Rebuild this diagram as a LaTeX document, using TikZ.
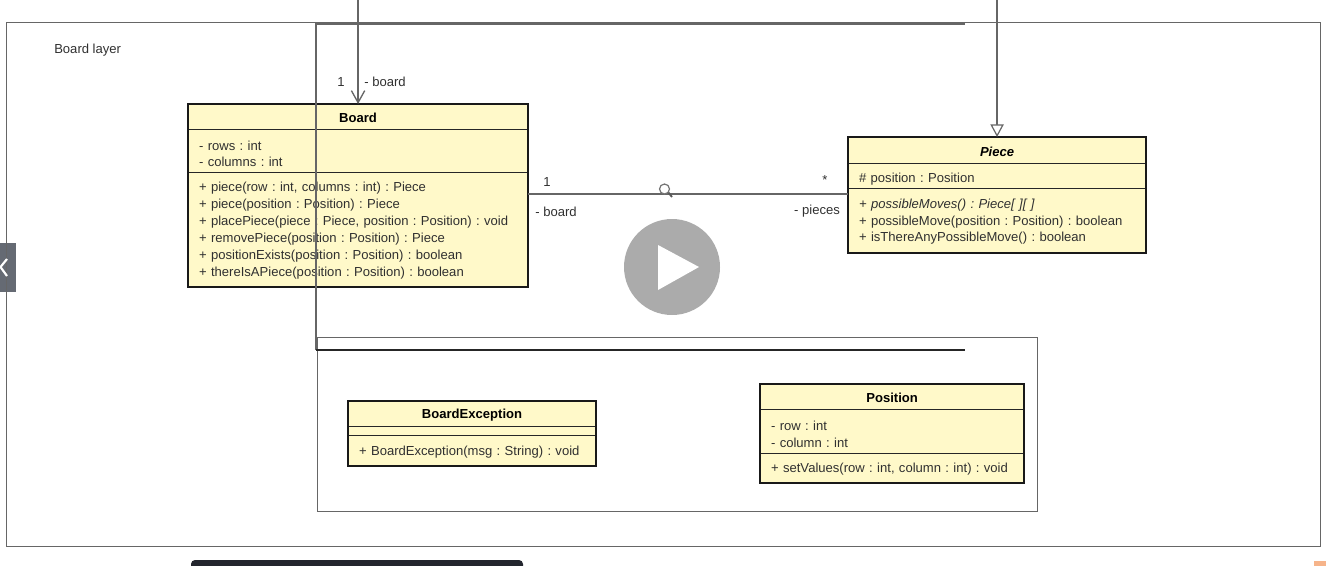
\documentclass[tikz,border=0pt]{standalone}
\usepackage{fontspec}
\setmainfont{Liberation Sans}
\usetikzlibrary{arrows.meta}
\frenchspacing
\definecolor{noteyellow}{HTML}{FFF9C9}
\definecolor{textgray}{HTML}{303030}
\definecolor{framegray}{HTML}{666666}
\definecolor{playgray}{HTML}{ABABAB}
\definecolor{tabgray}{HTML}{656A73}
\definecolor{bardark}{HTML}{23262E}
\definecolor{logoorange}{HTML}{F6B48A}
\tikzset{
  classfont/.style={font=\fontsize{9.8}{12.7}\selectfont,text=textgray},
  classpart/.style={draw=black!85,line width=0.6pt,fill=noteyellow,anchor=north west,
    inner xsep=8pt,inner ysep=0pt,align=left,classfont,
    execute at begin node={\rule{0pt}{9pt}}},
  classattrs/.style={classpart,execute at begin node={\rule{0pt}{11.5pt}}},
  classname/.style={classpart,align=center,text=black},
  classborder/.style={draw=black!90,line width=1.7pt},
  framebox/.style={draw=framegray,line width=0.75pt},
  label/.style={classfont,inner sep=0pt},
}
\begin{document}
\begin{tikzpicture}[x=0.75pt,y=-0.75pt]
  \useasboundingbox (0,0) rectangle (1326,565);
  % outer layer
  \node[framebox,anchor=north west,minimum width=985.5pt,minimum height=393pt,inner sep=0pt] (layer) at (6,22) {};
  \node[label,anchor=west] (layername) at (54,50) {Board layer};
  % Board
  \node[classname,minimum width=254.5pt,minimum height=18.75pt,text width=238.5pt] (BoardName) at (188,104) {\textbf{Board}};
  \node[classattrs,minimum width=254.5pt,minimum height=32.25pt,text width=238.5pt] (BoardAttrs) at (188,129)
    {- rows : int\\- columns : int};
  \node[classpart,minimum width=254.5pt,minimum height=85.5pt,text width=238.5pt] (BoardOps) at (188,172)
    {+ piece(row : int, columns : int) : Piece\\
     + piece(position : Position) : Piece\\
     + placePiece(piece : Piece, position : Position) : void\\
     + removePiece(position : Position) : Piece\\
     + positionExists(position : Position) : boolean\\
     + thereIsAPiece(position : Position) : boolean};
  \draw[classborder] (BoardName.north west) rectangle (BoardOps.south east);
  % Piece
  \node[classname,minimum width=223pt,minimum height=19.5pt,text width=207pt] (PieceName) at (848,137) {\textbf{\textit{Piece}}};
  \node[classattrs,minimum width=223pt,minimum height=18.75pt,text width=207pt] (PieceAttrs) at (848,163)
    {\# position : Position};
  \node[classpart,minimum width=223pt,minimum height=48pt,text width=207pt] (PieceOps) at (848,188)
    {\textit{+ possibleMoves() : Piece[ ][ ]}\\
     + possibleMove(position : Position) : boolean\\
     + isThereAnyPossibleMove() : boolean};
  \draw[classborder] (PieceName.north west) rectangle (PieceOps.south east);
  % BoardException
  \node[classname,minimum width=185.5pt,minimum height=18.75pt,text width=169.5pt] (ExcName) at (348,401) {\textbf{BoardException}};
  \node[classpart,minimum width=185.5pt,minimum height=6.75pt,text width=169.5pt,execute at begin node={}] (ExcAttrs) at (348,426) {};
  \node[classpart,minimum width=185.5pt,minimum height=22.5pt,text width=169.5pt] (ExcOps) at (348,435)
    {+ BoardException(msg : String) : void};
  \draw[classborder] (ExcName.north west) rectangle (ExcOps.south east);
  % Position
  \node[classname,minimum width=197.5pt,minimum height=18.75pt,text width=181.5pt] (PosName) at (760,384) {\textbf{Position}};
  \node[classattrs,minimum width=197.5pt,minimum height=33pt,text width=181.5pt] (PosAttrs) at (760,409)
    {- row : int\\- column : int};
  \node[classpart,minimum width=197.5pt,minimum height=21.75pt,text width=181.5pt] (PosOps) at (760,453)
    {+ setValues(row : int, column : int) : void};
  \draw[classborder] (PosName.north west) rectangle (PosOps.south east);
  % package frames
  \coordinate (pkgtl) at (316,24);
  \coordinate (pkgtr) at (965,24);
  \coordinate (pkgbl) at (316,350);
  \coordinate (pkgbr) at (965,350);
  \node[framebox,anchor=north west,minimum width=540pt,minimum height=130.5pt,inner sep=0pt] (lowerpkg) at (317,337) {};
  \draw[framegray,line width=1pt] (pkgbl) -- (pkgtl) -- (pkgtr);
  \draw[black!85,line width=0.9pt] (pkgbl) -- (pkgbr);
  % connectors
  \coordinate (boardin) at (BoardName.north |- 0,-1);
  \coordinate (piecein) at (PieceName.north |- 0,-1);
  \draw[framegray,line width=1.2pt,-{Straight Barb[length=9pt,width=10pt,line width=1pt]}] (boardin) -- (BoardName.north);
  \draw[framegray,line width=1.2pt,-{Triangle[open,length=9.5pt,width=10pt,fill=white,line width=0.9pt]}] (piecein) -- (PieceName.north);
  \draw[framegray,line width=0.9pt] (BoardOps.east |- 0,194) -- (PieceOps.west |- 0,194);
  \node[label] (boardone) at (341,82) {1};
  \node[label] (boardrole) at (385,82) {- board};
  \node[label] (assocone) at (547,181.5) {1};
  \node[label] (assocrole) at (556,212) {- board};
  \node[label] (assocmany) at (825,180) {*};
  \node[label] (assocpieces) at (817,211) {- pieces};
  % video player overlay
  \draw[black!65,line width=1.4pt] (668,192) -- (672,197);
  \node[circle,draw=black!55,fill=white,line width=0.9pt,minimum size=7.5pt,inner sep=0pt] (lens) at (664.5,189) {};
  \node[circle,fill=playgray,minimum size=72pt,inner sep=0pt] (play) at (672,267) {};
  \fill[white] (658,245) -- (699,267) -- (658,290) -- cycle;
  \fill[tabgray] (0,243) rectangle (16,292);
  \draw[framegray,line width=0.75pt] (6,243) -- (6,292);
  \draw[white,line width=1.6pt] (7,259) -- (0.5,267) -- (7,276);
  \fill[bardark,rounded corners=3pt] (191,560) rectangle (523,575);
  \fill[logoorange] (1314,561) rectangle (1326,566);
\end{tikzpicture}
\end{document}
